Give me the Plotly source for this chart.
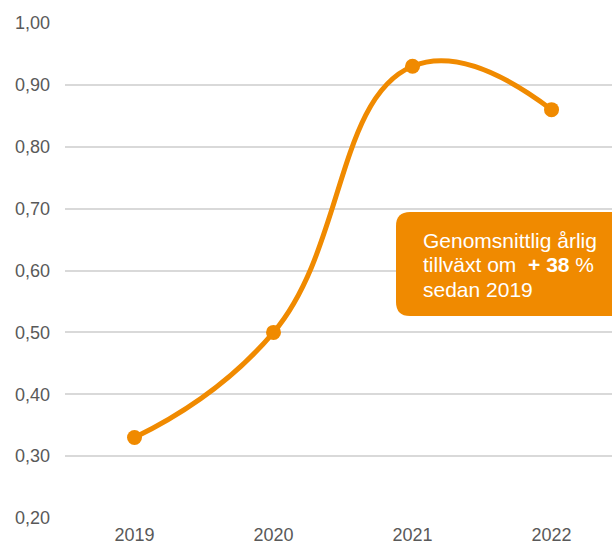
import plotly.graph_objects as go

years = ["2019", "2020", "2021", "2022"]
values = [0.33, 0.50, 0.93, 0.86]
y_ticks = [0.2, 0.3, 0.4, 0.5, 0.6, 0.7, 0.8, 0.9, 1.0]
note_lines = ["Genomsnittlig årlig", "tillväxt om &nbsp;<b>+ 38</b> %", "sedan 2019"]

ORANGE = "#F08A00"
GRID = "#D9D9D9"
TXT = "#595959"
FONT = "Liberation Sans, Arial, sans-serif"

fig = go.Figure()
fig.add_trace(go.Scatter(
    x=years, y=values, mode="lines+markers",
    line=dict(color=ORANGE, width=5, shape="spline", smoothing=1.3),
    marker=dict(color=ORANGE, size=15),
    hoverinfo="skip", showlegend=False, cliponaxis=False,
))

W, H = 612, 550
L, R, T, B = 65, 0, 23, 32
pw, ph = W - L - R, H - T - B

def px(p):
    return (p - L) / pw

def py(p):
    return (H - B - p) / ph

x0, x1 = px(396), px(640)
y0, y1 = py(316), py(212)
rx, ry = 14 / pw, 14 / ph
path = (f"M {x0+rx},{y1} L {x1-rx},{y1} Q {x1},{y1} {x1},{y1-ry} "
        f"L {x1},{y0+ry} Q {x1},{y0} {x1-rx},{y0} L {x0+rx},{y0} "
        f"Q {x0},{y0} {x0},{y0+ry} L {x0},{y1-ry} Q {x0},{y1} {x0+rx},{y1} Z")
fig.add_shape(type="path", path=path, xref="paper", yref="paper",
              fillcolor=ORANGE, line=dict(width=0), layer="above")

for i, t in enumerate(note_lines):
    fig.add_annotation(text=t, xref="paper", yref="paper",
                       x=px(421), y=py(240 + 24.5 * i), xanchor="left", yanchor="middle",
                       showarrow=False, align="left",
                       font=dict(family=FONT, size=21, color="white"))

fig.update_layout(
    width=W, height=H,
    margin=dict(l=L, r=R, t=T, b=B, pad=0),
    paper_bgcolor="white", plot_bgcolor="white",
    separators=",.",
    font=dict(family=FONT, size=18, color=TXT),
    xaxis=dict(type="category", range=[-0.5, 3.435], showgrid=False, zeroline=False,
               showline=False, ticks="", tickfont=dict(size=18, color=TXT),
               ticklabelstandoff=4),
    yaxis=dict(range=[0.2, 1.0], tickvals=y_ticks, tickformat=".2f",
               showgrid=True, gridcolor=GRID, gridwidth=1.5, zeroline=False,
               showline=False, ticks="", tickfont=dict(size=18, color=TXT),
               ticklabelstandoff=14),
)

fig.write_html("out.html")
